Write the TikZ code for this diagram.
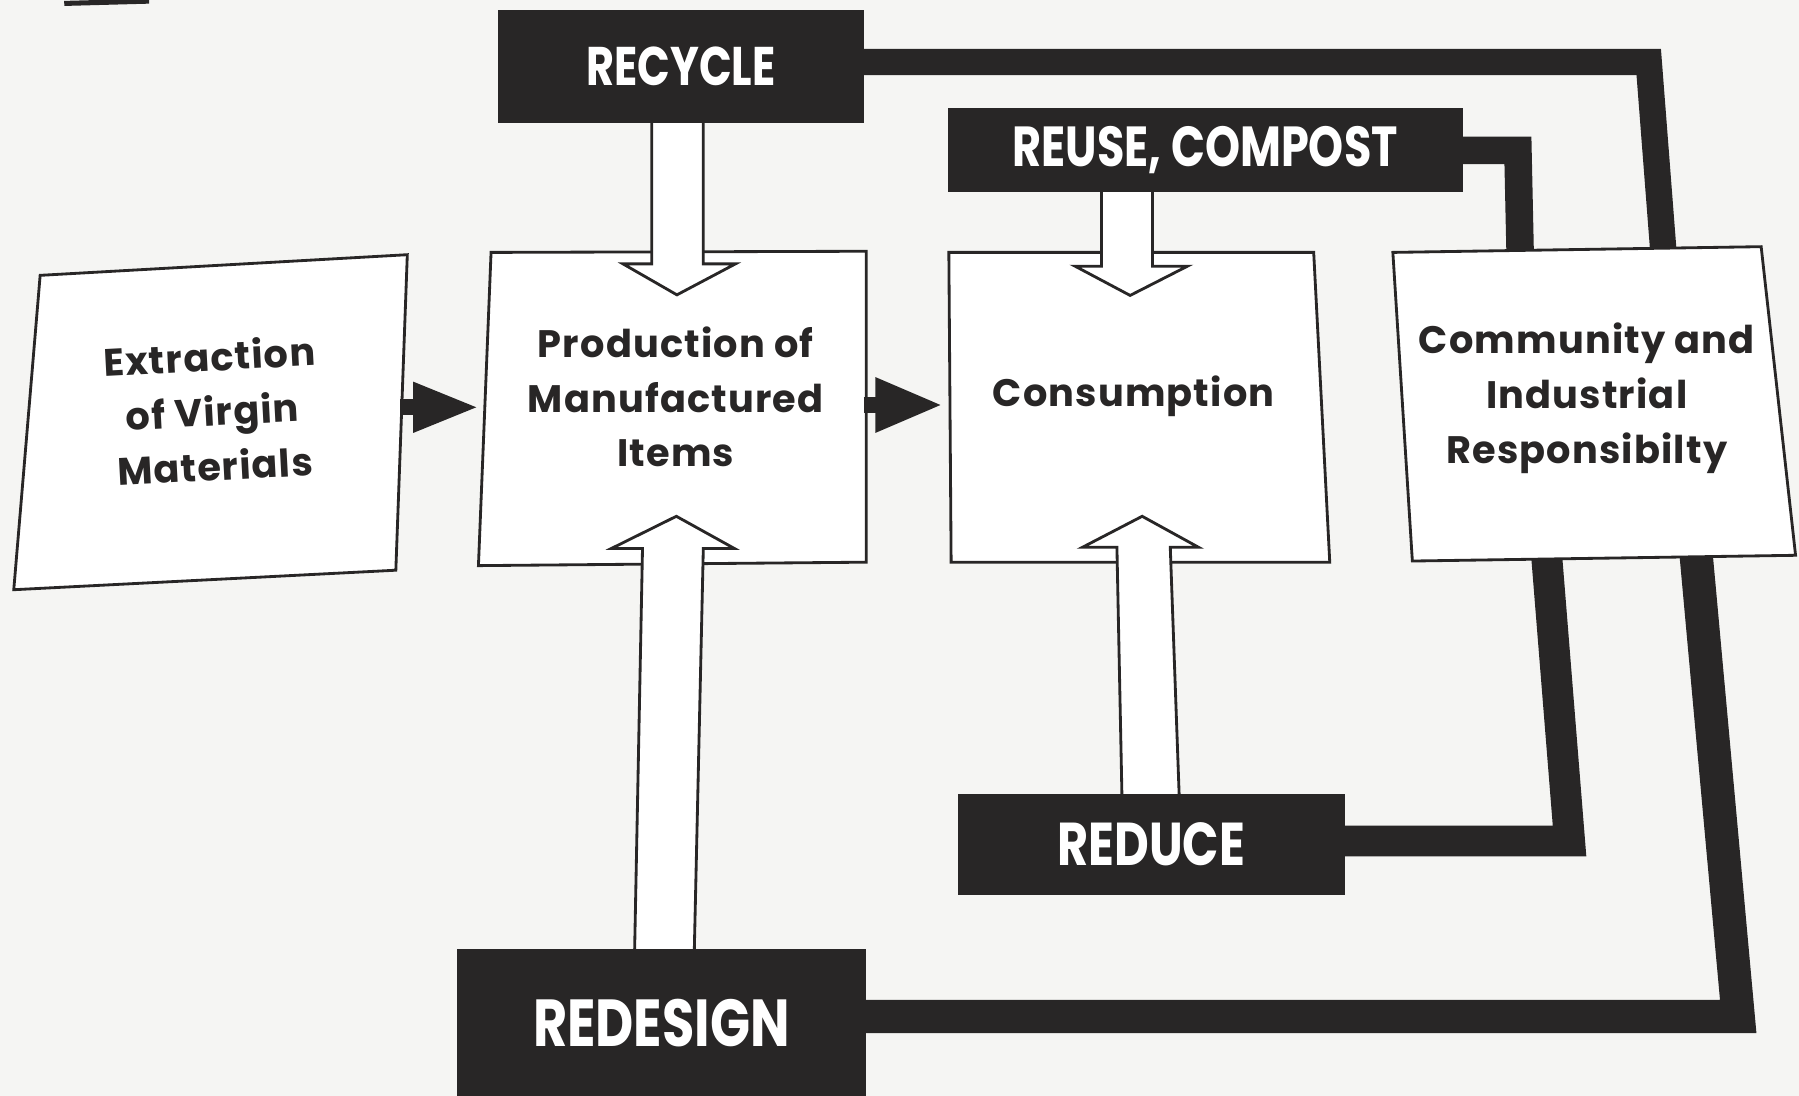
\documentclass[tikz,border=0pt]{standalone}
\usepackage{fontspec}
\setmainfont{Poppins}[LetterSpace=3]
\newfontfamily\hfont{Poppins}[FakeStretch=0.79]
\usetikzlibrary{arrows.meta}
\definecolor{ink}{RGB}{40,38,38}
\definecolor{paper}{RGB}{245,245,243}
\pgfdeclarelayer{paperlayer}
\pgfdeclarelayer{links}
\pgfsetlayers{paperlayer,links,main}
\tikzset{
  wbox/.style={draw=ink, fill=white, line width=1.4pt, line join=miter},
  txt/.style={font=\bfseries\fontsize{19}{27.2}\selectfont, text=ink, align=center, inner sep=0pt},
  dbox/.style={fill=ink, text=white, inner sep=0pt},
  conn/.style={draw=ink, line join=miter, line cap=butt},
  harrow/.style={draw=ink, fill=white, line width=1.4pt, line join=miter},
  darrow/.style={draw=ink, line width=0.28cm},
}
\begin{document}
\begin{tikzpicture}[x=0.02cm,y=-0.02cm]
\begin{pgfonlayer}{paperlayer}
\fill[paper] (0,0) rectangle (1568,955);
\end{pgfonlayer}
\useasboundingbox (0,0) rectangle (1568,955);

% fragment of a box above the picture
\draw[ink, line width=2.5pt] (56,3) -- (130,1);

% white boxes
\draw[wbox] (35,240) -- (355,222) -- (345,497) -- (12,514) -- cycle;
\node[txt, rotate=3] (ext) at (185,358) {Extraction\\of Virgin\\Materials};
\draw[wbox] (428,220) -- (755,219) -- (755,490) -- (417,493) -- cycle;
\node[txt] (prod) at (589,346) {Production of\\Manufactured\\Items};
\draw[wbox] (827,220) -- (1145,220) -- (1159,490) -- (829,490) -- cycle;
\node[txt] (cons) at (988,345) {Consumption};
\draw[wbox] (1214,220) -- (1535,215) -- (1565,484) -- (1231,489) -- cycle;
\node[txt] (comm) at (1383,347) {Community and\\Industrial\\Responsibilty};

% hollow arrows
\draw[harrow] (568,100) -- (568,230) -- (543,230) -- (590,257) -- (641,230) -- (613,230) -- (613,100);
\draw[harrow] (553,835) -- (560,478) -- (533,478) -- (589.5,450) -- (640,478) -- (613,478) -- (605,835);
\draw[harrow] (960,160) -- (960,232) -- (937,232) -- (985,257.5) -- (1035,232) -- (1004.5,232) -- (1004.5,160);
\draw[harrow] (978,700) -- (973.5,477) -- (943.5,477) -- (995.5,450) -- (1044.6,477) -- (1020,477) -- (1028,700);

% dark arrows
\coordinate (extR) at (349,355);
\coordinate (prodL) at (418,355);
\coordinate (prodR) at (753,353);
\coordinate (consL) at (822,353);
\draw[darrow, -{Triangle[width=0.8cm,length=1.16cm]}] (extR) -- (prodL);
\draw[darrow, -{Triangle[width=0.88cm,length=1.18cm]}] (prodR) -- (consL);

% dark boxes
\node[dbox, minimum width=6.38cm, minimum height=1.96cm, font=\hfont\bfseries\fontsize{27}{30}\selectfont] (recycle) at (593.5,58) {RECYCLE};
\node[dbox, minimum width=8.98cm, minimum height=1.46cm, font=\hfont\bfseries\fontsize{28}{30}\selectfont] (reuse) at (1050.5,130.5) {REUSE, COMPOST};
\node[dbox, minimum width=6.74cm, minimum height=1.76cm, font=\hfont\bfseries\fontsize{30}{32}\selectfont] (reduce) at (1003.5,736) {REDUCE};
\node[dbox, minimum width=7.14cm, minimum height=2.6cm, font=\hfont\bfseries\fontsize{33}{36}\selectfont] (redesign) at (576.5,892) {REDESIGN};

% thick connectors to Community and Industrial Responsibility
\coordinate (rcA) at (1437,54);
\coordinate (rcB) at (1450,222);
\coordinate (rsA) at (1323,131);
\coordinate (rsB) at (1325,224);
\coordinate (rdA) at (1368,733);
\coordinate (rdB) at (1348,484);
\coordinate (rgA) at (1515,886);
\coordinate (rgB) at (1478,480);
\begin{pgfonlayer}{links}
\draw[conn, line width=0.46cm] (recycle.center |- rcA) -- (rcA) -- (rcB);
\draw[conn, line width=0.48cm] (reuse.center |- rsA) -- (rsA) -- (rsB);
\draw[conn, line width=0.54cm] (reduce.center |- rdA) -- (rdA) -- (rdB);
\draw[conn, line width=0.58cm] (redesign.center |- rgA) -- (rgA) -- (rgB);
\end{pgfonlayer}
\end{tikzpicture}
\end{document}
